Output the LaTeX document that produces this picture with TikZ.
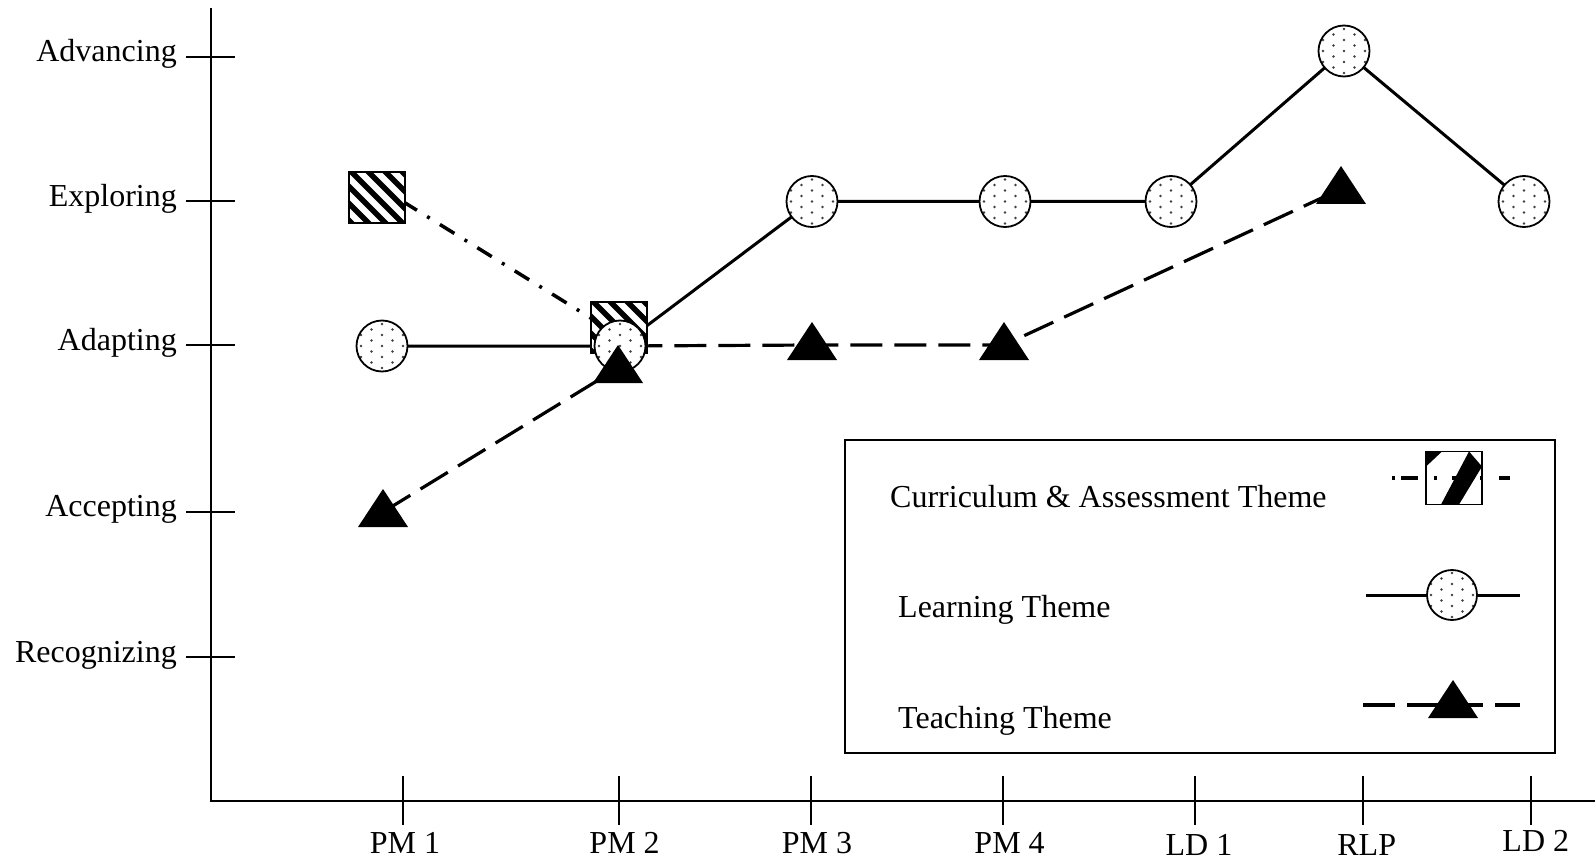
\documentclass[tikz,border=0pt]{standalone}
\usepackage{fontspec}
\setmainfont{Liberation Serif}
\usetikzlibrary{backgrounds}
\begin{document}
\begin{tikzpicture}[x=1pt,y=-1pt,
  lbl/.style={font=\fontsize{32}{37}\selectfont, inner sep=0pt},
  axis/.style={line width=2pt},
  dotcirc/.style={circle, draw, line width=1.8pt, fill=white, minimum size=51pt, inner sep=0pt,
    path picture={\foreach \i in {-3,...,3}{\foreach \j in {-3,...,3}{%
      \pgfmathsetmacro\yy{\j*11+mod(abs(\i),2)*5.5}%
      \fill[black!75] ([shift={({\i*10.5pt},{\yy*1pt})}]path picture bounding box.center) circle[radius=1.4pt];}}}},
  hatch/.style={draw, line width=1.8pt, fill=white, minimum width=56pt, minimum height=51pt, inner sep=0pt,
    path picture={\foreach \k in {-6,...,6}{%
      \draw[black, line width=5.5pt] ([shift={({\k*17pt-40pt},40pt)}]path picture bounding box.center) -- ++(80pt,-80pt);}}},
  legsq/.style={draw, line width=1.8pt, fill=white, minimum width=56pt, minimum height=53pt, inner sep=0pt,
    path picture={%
      \fill[black] (path picture bounding box.north west) -- ++(16pt,0pt) -- ++(-16pt,-15pt) -- cycle;
      \fill[black] ([shift={(15pt,0pt)}]path picture bounding box.south west) -- ([shift={(33pt,0pt)}]path picture bounding box.south west)
        -- ([shift={(0pt,-15pt)}]path picture bounding box.north east) -- ([shift={(-13pt,0pt)}]path picture bounding box.north east) -- cycle;}},
  tri/.style={minimum width=50pt, minimum height=46pt, inner sep=0pt,
    path picture={\fill[black] ([yshift=23pt]path picture bounding box.center)
      -- ([shift={(25pt,-15pt)}]path picture bounding box.center)
      -- ([shift={(-25pt,-15pt)}]path picture bounding box.center) -- cycle;}},
  learn/.style={line width=3pt},
  teach/.style={line width=3.2pt, dash pattern=on 32pt off 12pt},
  curr/.style={line width=3.5pt, dash pattern=on 17pt off 12pt on 3pt off 12pt, dash phase=14pt}
]
\useasboundingbox (0,0) rectangle (1595,861);

% axes
\coordinate (ytop) at (210.7,8);
\coordinate (orig) at (210.7,800.7);
\coordinate (xend) at (1595,800.7);
\draw[axis] (ytop) -- (orig) -- (xend);

% y ticks and labels
\foreach \yv/\txt in {57/Advancing,201.5/Exploring,345/Adapting,511.5/Accepting,657/Recognizing}{
  \draw[axis] (186,\yv) -- (235,\yv);
  \node[lbl, anchor=base east] at (177,\yv+5) {\txt};
}
% x ticks and labels
\foreach \xv in {402.7,618.7,810.7,1003,1195,1362.7,1531}{
  \draw[axis] (\xv,776) -- (\xv,825);
}
\node[lbl, anchor=base] (xl1) at (405,853) {PM 1};
\node[lbl, anchor=base] (xl2) at (624.6,853) {PM 2};
\node[lbl, anchor=base] (xl3) at (817,853) {PM 3};
\node[lbl, anchor=base] (xl4) at (1009.6,853) {PM 4};
\node[lbl, anchor=base] (xl5) at (1199,855) {LD 1};
\node[lbl, anchor=base] (xl6) at (1366.7,855) {RLP};
\node[lbl, anchor=base] (xl7) at (1535.8,851.7) {LD 2};

% markers
\node[hatch] (s1) at (377,197.5) {};
\node[hatch] (s2) at (619,327.5) {};

\node[dotcirc] (c1) at (382,346) {};
\node[dotcirc] (c2) at (620,346) {};
\node[dotcirc] (c3) at (812,201.5) {};
\node[dotcirc] (c4) at (1005,201.5) {};
\node[dotcirc] (c5) at (1171,201.5) {};
\node[dotcirc] (c6) at (1344,51) {};
\node[dotcirc] (c7) at (1524,201.5) {};

\node[tri] (t1) at (383,512) {};
\node[tri] (t2) at (618,368) {};
\node[tri] (t3) at (812,345) {};
\node[tri] (t4) at (1004,345) {};
\node[tri] (t5) at (1341,189) {};

% connectors (behind markers)
\begin{scope}[on background layer]
  \draw[curr] ([yshift=12pt]s1.center) -- ([yshift=-8pt]s2.center);
  \draw[learn] (c1.center) -- (c2.center) -- (c3.center) -- (c4.center) -- (c5.center) -- (c6.center) -- (c7.center);
  \draw[teach] (t1.center) -- (t2.center) -- (c2.center) -- (t3.center) -- (t4.center) -- (t5.center);
\end{scope}

% legend
\node[draw, line width=2pt, minimum width=710pt, minimum height=313pt, inner sep=0pt] (legend) at (1200,596.1) {};
\node[lbl, anchor=base west] (lt1) at (890,507) {Curriculum \& Assessment Theme};
\node[lbl, anchor=base west] (lt2) at (898,617) {Learning Theme};
\node[lbl, anchor=base west] (lt3) at (898,728) {Teaching Theme};

\node[legsq] (ls) at (1454,478) {};
\coordinate (la) at (1392,478);
\coordinate (lb) at (1510,478);
\draw[line width=3.5pt, dash pattern={on 3pt off 6pt on 17pt off 16pt on 3pt off 15pt on 17pt off 11pt on 3pt off 16pt on 14pt}] (la) -- (lb);

\coordinate (lc1) at (1366,595);
\coordinate (lc2) at (1520,595);
\draw[learn] (lc1) -- (lc2);
\node[dotcirc, minimum size=50pt] (lc) at (1452,595) {};

\coordinate (ld1) at (1363,705);
\coordinate (ld2) at (1520,705);
\draw[line width=3.2pt, dash pattern={on 32pt off 12pt on 76pt off 12pt on 25pt}] (ld1) -- (ld2);
\node[tri] (ltri) at (1453,703) {};
\end{tikzpicture}
\end{document}
